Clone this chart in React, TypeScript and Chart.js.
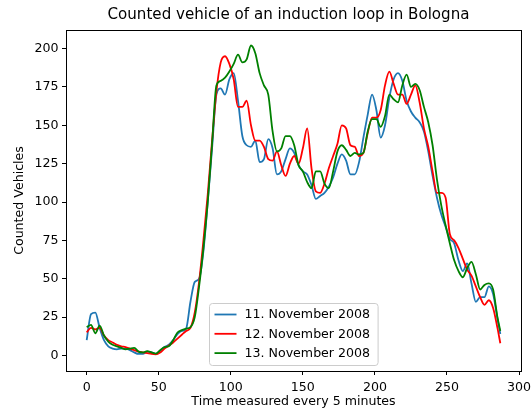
import React, { useEffect, useRef } from "react";
import { Chart, registerables } from "chart.js";

Chart.register(...registerables);

const TITLE = "Counted vehicle of an induction loop in Bologna";
const X_LABEL = "Time measured every 5 minutes";
const Y_LABEL = "Counted Vehicles";
const SERIES_LABELS = ["11. November 2008", "12. November 2008", "13. November 2008"];
const SERIES_COLORS = ["#1f77b4", "#ff0000", "#008000"];

const TIME_STEPS = [
  0, 3, 6, 9, 12, 15, 18, 21, 24, 27, 30, 33, 36, 39, 42, 45, 48, 51, 54, 57,
  60, 63, 66, 69, 72, 75, 78, 81, 84, 87, 90, 93, 96, 99, 102, 105, 108, 111, 114, 117,
  120, 123, 126, 129, 132, 135, 138, 141, 144, 147, 150, 153, 156, 159, 162, 165, 168, 171, 174, 177,
  180, 183, 186, 189, 192, 195, 198, 201, 204, 207, 210, 213, 216, 219, 222, 225, 228, 231, 234, 237,
  240, 243, 246, 249, 252, 255, 258, 261, 264, 267, 270, 273, 276, 279, 282, 285, 287,
];

const NOV_11 = [
  10, 27, 28, 18, 10, 6, 4.5, 4, 4.5, 4.5, 3.5, 2, 1, 1, 2.5, 2, 1, 3, 5.5, 7,
  10, 14, 16, 17.5, 35, 48, 50, 68, 100, 135, 170, 174, 170, 180, 184, 166, 143, 137, 136, 140,
  126, 128, 141, 135, 118, 120, 128, 135, 132, 124, 120, 118, 111, 102, 104, 106, 110, 116, 125, 131,
  127, 118, 118, 126, 142, 157, 170, 160, 142, 150, 168, 180, 184, 179, 166, 159, 155, 152, 146, 133,
  117, 103, 92, 84, 76, 73, 62, 55, 60, 47, 35, 38, 38, 45, 40, 24, 14,
];

const NOV_12 = [
  15, 18, 17, 18, 13, 10, 8.5, 7, 6, 5.5, 4.5, 3.5, 2.5, 2, 1.5, 1, 0.8, 2, 4.5, 6.5,
  8.5, 11, 13.5, 16, 18, 28, 48, 75, 105, 140, 172, 191, 195, 190, 180, 162, 162, 166, 150, 140,
  140, 136, 128, 127, 133, 124, 117, 125, 130, 125, 135, 148, 122, 107, 106, 112, 122, 130, 138, 150,
  148, 137, 136, 130, 132, 145, 155, 155, 160, 176, 185, 177, 170, 170, 164, 170, 176, 165, 148, 136,
  120, 106, 106, 103, 79, 75, 70, 63, 56, 52, 45, 38, 33, 36, 31, 18, 8,
];

const NOV_13 = [
  18.5, 20, 14.5, 19.5, 13, 9, 7, 6, 5, 4, 4.5, 5, 2.5, 2, 2.8, 2, 1.2, 3.5, 5.5, 6,
  10, 15, 16.5, 17.5, 18.5, 25, 45, 70, 100, 138, 176, 179, 181, 185, 190, 196, 191, 193, 202, 197,
  184, 176, 170, 146, 133, 135, 143, 143, 137, 124, 120, 113, 109, 120, 120, 112, 109, 120, 133, 137,
  134, 130, 132, 131, 132, 146, 154, 154, 149, 156, 170, 167, 165, 176, 183, 175, 177, 173, 162, 152,
  137, 115, 98, 85, 73, 62, 55, 51, 57, 61, 53, 43, 46, 47, 43, 25, 16,
];

const X_TICKS = [0, 50, 100, 150, 200, 250, 300];
const Y_TICKS = [0, 25, 50, 75, 100, 125, 150, 175, 200];

const FONT = "DejaVu Sans";
const TICK_SIZE = 12.6;
const TITLE_SIZE = 15.1;

const titlePlugin = {
  id: "mplTitle",
  afterDraw(chart: any) {
    const { ctx, chartArea } = chart;
    ctx.save();
    ctx.font = `${TITLE_SIZE}px "${FONT}"`;
    ctx.fillStyle = "#000";
    ctx.textAlign = "center";
    ctx.textBaseline = "middle";
    const cx = (chartArea.left + chartArea.right) / 2 - 5;
    ctx.fillText(TITLE, cx, chartArea.top / 2);
    ctx.restore();
  },
};

const framePlugin = {
  id: "frame",
  afterDatasetsDraw(chart: any) {
    const { ctx, chartArea } = chart;
    ctx.save();
    ctx.strokeStyle = "#000";
    ctx.lineWidth = 1;
    ctx.strokeRect(
      Math.round(chartArea.left) + 0.5,
      Math.round(chartArea.top) + 0.5,
      Math.round(chartArea.right - chartArea.left),
      Math.round(chartArea.bottom - chartArea.top)
    );
    ctx.restore();
  },
};

const legendPlugin = {
  id: "boxLegend",
  afterDraw(chart: any) {
    const { ctx, chartArea } = chart;
    const sets = chart.data.datasets;
    ctx.save();
    ctx.font = `${TICK_SIZE}px "${FONT}"`;
    let textW = 0;
    sets.forEach((d: any) => {
      textW = Math.max(textW, ctx.measureText(d.label).width);
    });
    const padL = 5;
    const lineLen = 22;
    const gap = 8;
    const padR = 8;
    const rowH = 19.3;
    const w = padL + lineLen + gap + textW + padR;
    const h = 62;
    const cx = (chartArea.left + chartArea.right) / 2;
    const x0 = Math.round(cx - w / 2) + 0.5;
    const y1 = chartArea.bottom - 6;
    const y0 = Math.round(y1 - h) + 0.5;
    const r = 3;
    ctx.beginPath();
    ctx.moveTo(x0 + r, y0);
    ctx.lineTo(x0 + w - r, y0);
    ctx.quadraticCurveTo(x0 + w, y0, x0 + w, y0 + r);
    ctx.lineTo(x0 + w, y0 + h - r);
    ctx.quadraticCurveTo(x0 + w, y0 + h, x0 + w - r, y0 + h);
    ctx.lineTo(x0 + r, y0 + h);
    ctx.quadraticCurveTo(x0, y0 + h, x0, y0 + h - r);
    ctx.lineTo(x0, y0 + r);
    ctx.quadraticCurveTo(x0, y0, x0 + r, y0);
    ctx.closePath();
    ctx.fillStyle = "rgba(255,255,255,0.8)";
    ctx.fill();
    ctx.strokeStyle = "#cccccc";
    ctx.lineWidth = 1;
    ctx.stroke();
    sets.forEach((d: any, i: number) => {
      const y = y0 + 11 + i * rowH;
      ctx.strokeStyle = d.borderColor;
      ctx.lineWidth = 1.8;
      ctx.beginPath();
      ctx.moveTo(x0 + padL, y);
      ctx.lineTo(x0 + padL + lineLen, y);
      ctx.stroke();
      ctx.fillStyle = "#000";
      ctx.textBaseline = "middle";
      ctx.textAlign = "left";
      ctx.fillText(d.label, x0 + padL + lineLen + gap, y + 0.5);
    });
    ctx.restore();
  },
};

export default function App() {
  const canvasRef = useRef<HTMLCanvasElement | null>(null);

  useEffect(() => {
    document.body.style.margin = "0";
    const canvas = canvasRef.current;
    if (!canvas) return;
    const seriesValues = [NOV_11, NOV_12, NOV_13];
    const datasets = seriesValues.map((vals, i) => ({
      label: SERIES_LABELS[i],
      data: TIME_STEPS.map((t, k) => ({ x: t, y: vals[k] })),
      borderColor: SERIES_COLORS[i],
      backgroundColor: SERIES_COLORS[i],
      borderWidth: 1.8,
      pointRadius: 0,
      fill: false,
      cubicInterpolationMode: "monotone" as const,
      order: 2 - i,
    }));

    const chart = new Chart(canvas, {
      type: "line",
      data: { datasets },
      options: {
        animation: false,
        responsive: false,
        devicePixelRatio: 1,
        layout: { padding: { left: 0, right: 10, top: 30, bottom: 0 } },
        plugins: {
          legend: { display: false },
          tooltip: { enabled: false },
          title: { display: false },
        },
        scales: {
          x: {
            type: "linear",
            min: -14.35,
            max: 301.35,
            afterBuildTicks: (scale: any) => {
              scale.ticks = X_TICKS.map((v) => ({ value: v }));
            },
            afterFit: (scale: any) => {
              scale.height = 40;
              scale.paddingLeft = 0;
              scale.paddingRight = 0;
            },
            grid: { drawOnChartArea: false, drawTicks: true, tickLength: 4, color: "#000" },
            border: { display: true, color: "#000" },
            ticks: {
              color: "#000",
              font: { family: FONT, size: TICK_SIZE },
              padding: 5,
              maxRotation: 0,
              autoSkip: false,
            },
            title: {
              display: true,
              text: X_LABEL,
              color: "#000",
              font: { family: FONT, size: TICK_SIZE },
              padding: { top: 0, bottom: 1.5 },
            },
          },
          y: {
            type: "linear",
            min: -10.1,
            max: 212.1,
            afterBuildTicks: (scale: any) => {
              scale.ticks = Y_TICKS.map((v) => ({ value: v }));
            },
            afterFit: (scale: any) => {
              scale.width = 66;
              scale.paddingTop = 0;
              scale.paddingBottom = 0;
            },
            grid: { drawOnChartArea: false, drawTicks: true, tickLength: 4, color: "#000" },
            border: { display: true, color: "#000" },
            ticks: {
              color: "#000",
              font: { family: FONT, size: TICK_SIZE },
              padding: 3.5,
              autoSkip: false,
            },
            title: {
              display: true,
              text: Y_LABEL,
              color: "#000",
              font: { family: FONT, size: TICK_SIZE },
              padding: { top: 12, bottom: 0 },
            },
          },
        },
      },
      plugins: [framePlugin, legendPlugin, titlePlugin],
    });

    return () => {
      chart.destroy();
    };
  }, []);

  return (
    <div style={{ position: "absolute", left: 0, top: 0, width: 531, height: 411, background: "#fff" }}>
      <canvas ref={canvasRef} width={531} height={411} />
    </div>
  );
}
